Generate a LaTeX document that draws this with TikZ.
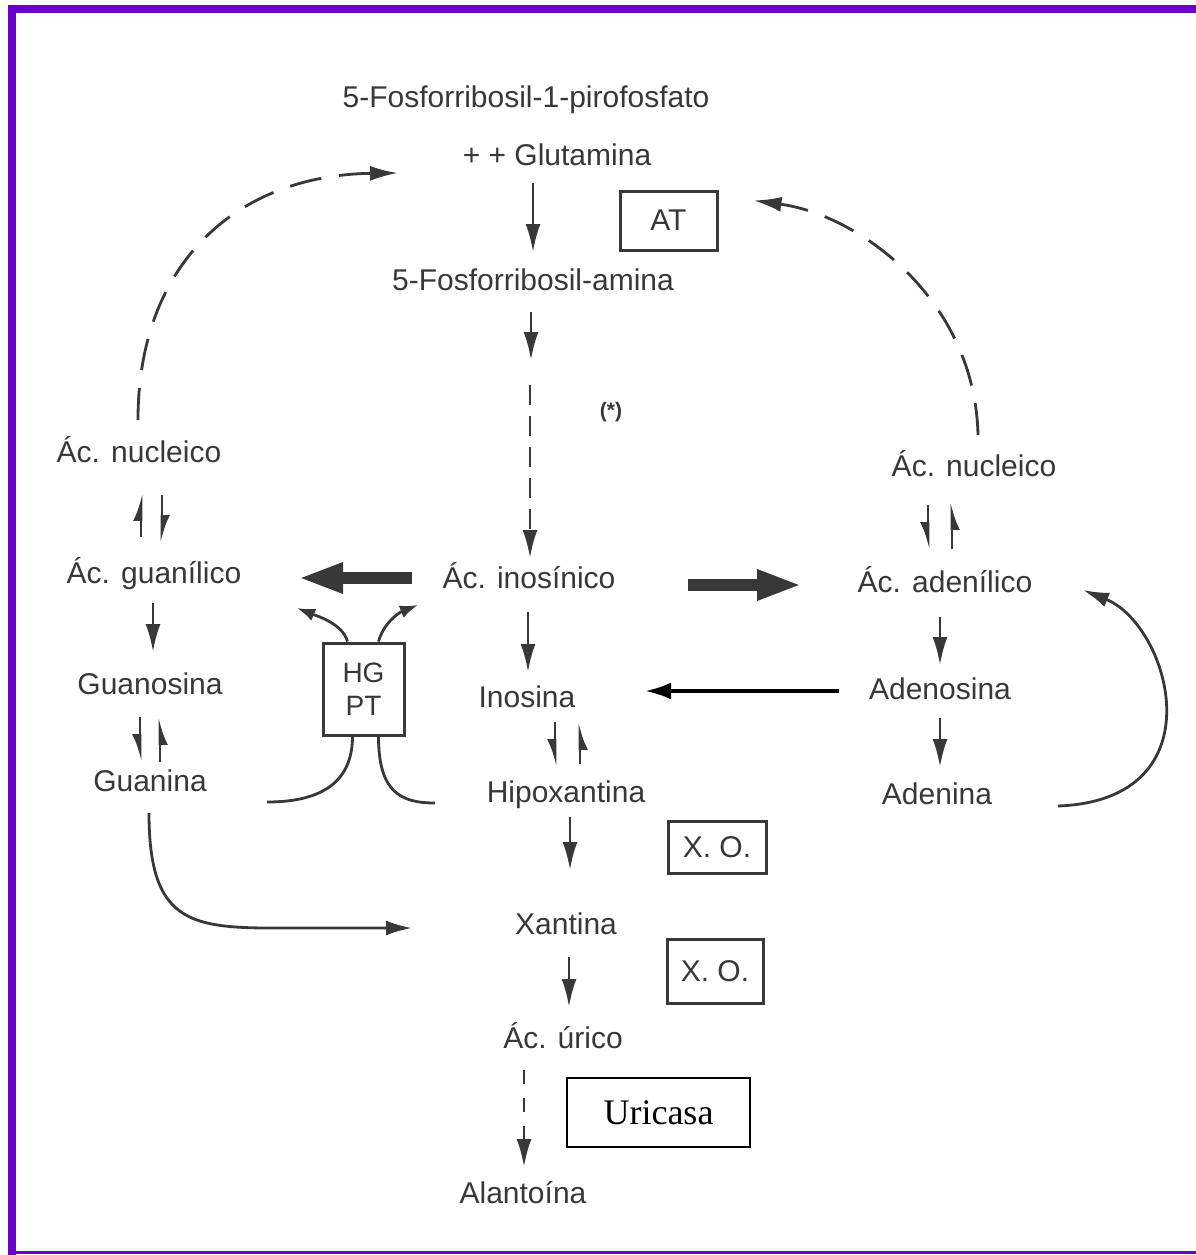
\documentclass[tikz,border=0pt]{standalone}
\usepackage{fontspec}
\setmainfont{Liberation Sans}
\newfontfamily\ricfont{Liberation Serif}
\usetikzlibrary{arrows.meta,calc}
\definecolor{ink}{HTML}{383838}
\definecolor{framec}{HTML}{6A00CC}
\begin{document}
\begin{tikzpicture}[x=1pt,y=-1pt,
  lbl/.style={inner sep=0pt, text height=21pt, text depth=0pt, text=ink, font=\fontsize{30}{36}\selectfont},
  ebox/.style={draw=ink, line width=3pt, inner sep=0pt, text=ink, font=\fontsize{30}{36}\selectfont, align=center},
  arr/.style={draw=ink, line width=2.8pt, -{Latex[length=28pt,width=15pt]}},
  darr/.style={arr, dash pattern=on 20pt off 11pt},
  arcd/.style={arr, dash pattern=on 32pt off 18pt},
  harpl/.style={draw=ink, line width=2.8pt, -{Latex[length=22pt,width=16pt,harpoon]}},
  harpr/.style={draw=ink, line width=2.8pt, -{Latex[length=22pt,width=16pt,harpoon,swap]}},
  curarr/.style={draw=ink, line width=2.8pt, -{Latex[length=26pt,width=15pt]}},
  smarr/.style={draw=ink, line width=2.8pt, -{Latex[length=18pt,width=13pt]}},
  bigarr/.style={draw=ink, line width=12pt, -{Triangle[length=45pt,width=28pt]}},
  blkarr/.style={draw=black, line width=3.5pt, -{Latex[length=26pt,width=17pt]}},
  plain/.style={draw=ink, line width=2.8pt}]
\useasboundingbox (0,0) rectangle (1196,1255);
\fill[white] (0,0) rectangle (1196,1255);
% frame
\fill[framec] (8,5) rectangle (1196,13);
\fill[framec] (8,5) rectangle (16,1255);
\fill[framec] (8,1251) rectangle (1196,1254);

% labels
\node[lbl] (P) at (526,97) {5-Fosforribosil-1-pirofosfato};
\node[lbl] (G) at (557,155) {+ + Glutamina};
\node[lbl] (A) at (533,280) {5-Fosforribosil-amina};
\node[inner sep=0pt, text=ink, font=\bfseries\fontsize{21}{24}\selectfont] (ast) at (611,412) {(*)};
\node[lbl] (NL) at (139,452) {Ác. nucleico};
\node[lbl] (NR) at (974,466) {Ác. nucleico};
\node[lbl] (L) at (154,573) {Ác. guanílico};
\node[lbl] (I) at (529,578) {Ác. inosínico};
\node[lbl] (R) at (945,582) {Ác. adenílico};
\node[lbl] (Go) at (150,684) {Guanosina};
\node[lbl] (In) at (527,697) {Inosina};
\node[lbl] (Ad) at (940,689) {Adenosina};
\node[lbl] (Ga) at (150,781) {Guanina};
\node[lbl] (Hx) at (566,792) {Hipoxantina};
\node[lbl] (Ae) at (937,794) {Adenina};
\node[lbl] (X) at (566,924) {Xantina};
\node[lbl] (U) at (563,1038) {Ác. úrico};
\node[lbl] (Al) at (523,1193) {Alantoína};

% enzyme boxes
\node[ebox, minimum width=97pt, minimum height=59pt] (AT) at (668.5,220.5) {AT};
\node[ebox, minimum width=81pt, minimum height=92pt, font=\fontsize{28}{33}\selectfont] (H) at (363.5,689) {HG\\PT};
\node[ebox, minimum width=98pt, minimum height=52pt] (XO1) at (717,847) {X. O.};
\node[ebox, minimum width=96pt, minimum height=64pt] (XO2) at (715,971) {X. O.};
\node[draw=black, line width=1.5pt, inner sep=0pt, minimum width=183pt, minimum height=69pt, font=\ricfont\fontsize{36}{40}\selectfont] (Uc) at (658.5,1112.5) {Uricasa};

% central pathway
\draw[arr] ($(G)+(-24,28)$) -- ($(A)+(0,-28)$);
\coordinate (c1) at ($(A)+(-2,80)$);
\draw[arr] ($(A)+(-2,32)$) -- (c1);
\draw[darr] ($(I)+(1,-193)$) -- ($(I)+(1,-20)$);
\draw[arr] ($(I)+(-1,34)$) -- ($(In)+(1,-25)$);
\draw[harpr] ($(In)+(28,25)$) -- ($(Hx)+(-11,-25)$);
\draw[harpr] ($(Hx)+(14,-28)$) -- ($(In)+(53,25)$);
\draw[arr] ($(Hx)+(4,25)$) -- ($(X)+(4,-54)$);
\draw[arr] ($(X)+(3,33)$) -- ($(U)+(6,-31)$);
\draw[arr, dash pattern=on 14pt off 14pt] ($(U)+(-39,32)$) -- ($(Al)+(1,-26)$);

% big arrows
\draw[bigarr] ($(I)+(-117,0)$) -- ($(L)+(144,5)$);
\draw[bigarr] ($(I)+(159,7)$) -- ($(R)+(-143,3)$);
\draw[blkarr] ($(Ad)+(-101,2)$) -- ($(In)+(118,-6)$);

% guanine side
\draw[harpl] ($(L)+(-13,-36)$) -- ($(NL)+(2,41)$);
\draw[harpl] ($(NL)+(23,43)$) -- ($(L)+(8,-30)$);
\draw[arr] ($(L)+(-1,30)$) -- ($(Go)+(3,-32)$);
\draw[harpr] ($(Go)+(-10,33)$) -- ($(Ga)+(-10,-19)$);
\draw[harpr] ($(Ga)+(10,-19)$) -- ($(Go)+(10,33)$);
\draw[curarr] ($(Ga)+(-1,32)$) .. controls (149,935) and (200,928) .. (310,928) -- ($(X)+(-154,4)$);

% adenine side
\draw[harpr] ($(NR)+(-46,39)$) -- ($(R)+(-17,-32)$);
\draw[harpr] ($(R)+(7,-33)$) -- ($(NR)+(-22,36)$);
\draw[arr] ($(R)+(-5,35)$) -- ($(Ad)+(0,-24)$);
\draw[arr] ($(Ad)+(0,29)$) -- ($(Ae)+(3,-27)$);
\draw[curarr] ($(Ae)+(121,12)$) .. controls (1220,800) and (1170,625) .. ($(R)+(138,8)$);

% dashed feedback arcs
\draw[arcd] ($(NL)+(-1,-32)$) .. controls (138,260) and (240,175) .. ($(G)+(-159,18)$);
\draw[arcd] ($(NR)+(4,-31)$) .. controls (975,300) and (860,215) .. ($(AT.east)+(35,-20)$);

% HGPT
\draw[smarr] ($(H.north)+(-16,0)$) .. controls +(-5,-18) and +(20,8) .. ($(L)+(143,35)$);
\draw[smarr] ($(H.north)+(15,0)$) .. controls +(5,-18) and +(-20,8) .. ($(I)+(-111,27)$);
\draw[plain] ($(H.south)+(-11,0)$) .. controls +(0,55) and +(40,0) .. ($(Ga)+(117,21)$);
\draw[plain] ($(H.south)+(15,0)$) .. controls +(0,55) and +(-35,0) .. ($(Hx)+(-131,11)$);
\end{tikzpicture}
\end{document}
